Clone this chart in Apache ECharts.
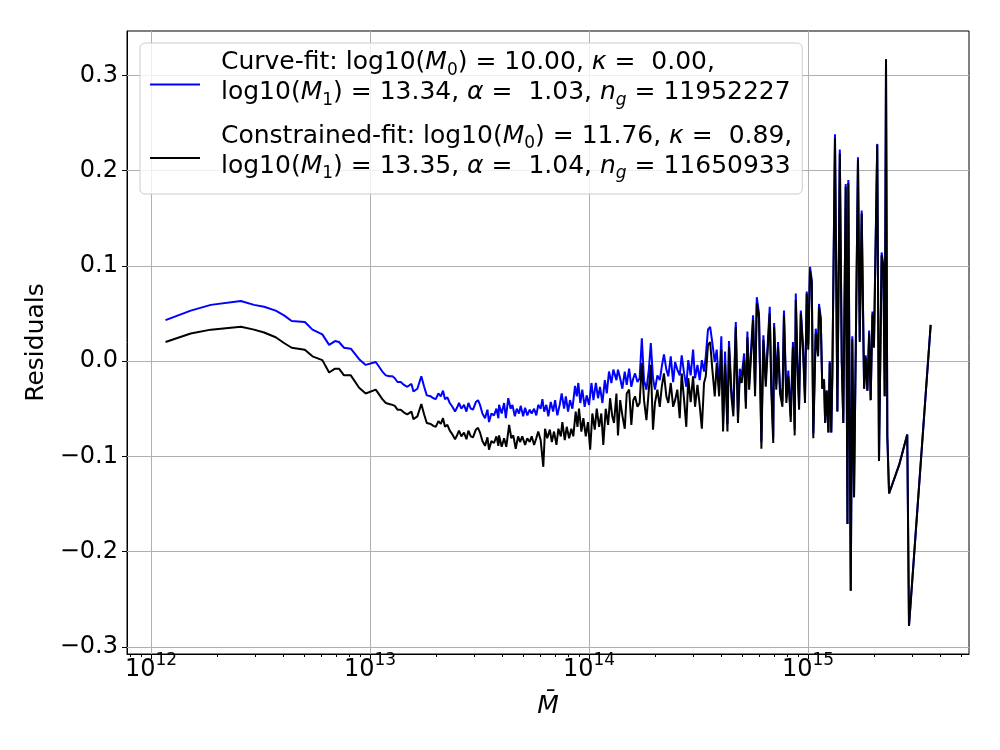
<!DOCTYPE html>
<html>
<head>
<meta charset="utf-8">
<script src="https://cdn.jsdelivr.net/npm/echarts@6/dist/echarts.min.js"></script>
<style>html,body{margin:0;padding:0;background:#fff}#c{width:1000px;height:750px}</style>
</head>
<body>
<div id="c"></div>
<script>
// x values are log10(M-bar), y values are residuals
const curveFit = [
[12.066,0.043],[12.181,0.053],[12.273,0.059],[12.410,0.063],[12.470,0.059],[12.516,0.057],[12.569,0.053],[12.607,0.048],[12.642,0.042],[12.702,0.041],[12.737,0.033],[12.782,0.028],[12.813,0.017],[12.840,0.021],[12.858,0.020],[12.881,0.014],[12.912,0.013],[12.950,0.002],[12.980,-0.004],[13.026,-0.001],
[13.056,-0.011],[13.072,-0.015],[13.087,-0.016],[13.102,-0.016],[13.113,-0.018],[13.125,-0.022],[13.140,-0.022],[13.155,-0.025],[13.170,-0.027],[13.189,-0.024],[13.198,-0.032],[13.216,-0.029],[13.234,-0.016],[13.247,-0.027],[13.259,-0.036],[13.277,-0.037],[13.289,-0.039],[13.300,-0.040],[13.312,-0.034],[13.323,-0.037],[13.333,-0.031],[13.342,-0.040],[13.353,-0.038],[13.364,-0.044],[13.376,-0.048],[13.388,-0.053],[13.399,-0.048],[13.406,-0.044],[13.417,-0.050],[13.429,-0.046],[13.440,-0.053],[13.449,-0.044],[13.460,-0.050],[13.470,-0.051],[13.483,-0.043],[13.493,-0.041],[13.502,-0.046],[13.513,-0.055],[13.525,-0.060],[13.536,-0.051],[13.543,-0.064],[13.554,-0.055],[13.566,-0.057],[13.577,-0.050],[13.586,-0.060],
[13.589,-0.046],[13.601,-0.055],[13.612,-0.044],[13.620,-0.060],[13.631,-0.039],[13.642,-0.050],[13.650,-0.046],[13.661,-0.058],[13.670,-0.050],[13.680,-0.055],[13.688,-0.047],[13.699,-0.058],[13.708,-0.049],[13.718,-0.057],[13.729,-0.051],[13.738,-0.055],[13.749,-0.050],[13.759,-0.057],[13.768,-0.046],[13.779,-0.050],[13.787,-0.040],[13.795,-0.053],[13.805,-0.046],[13.814,-0.058],[13.825,-0.043],[13.836,-0.053],[13.845,-0.041],[13.855,-0.057],[13.866,-0.046],[13.875,-0.034],[13.886,-0.050],[13.894,-0.037],[13.904,-0.053],[13.913,-0.041],[13.924,-0.050],[13.936,-0.026],[13.944,-0.037],[13.951,-0.023],[13.960,-0.044],[13.969,-0.030],[13.980,-0.048],[13.989,-0.036],[14.000,-0.046],[14.011,-0.023],[14.020,-0.041],[14.031,-0.023],[14.041,-0.039],[14.050,-0.027],[14.061,-0.044],[14.072,-0.020],[14.081,-0.034],[14.091,-0.011],[14.102,-0.023],[14.111,-0.009],
[14.114,-0.011],[14.125,-0.020],[14.132,-0.009],[14.142,-0.018],[14.152,-0.029],[14.163,-0.011],[14.172,-0.025],[14.183,-0.008],[14.193,-0.027],[14.202,-0.018],[14.210,-0.013],[14.221,-0.022],[14.231,-0.018],[14.241,0.024],[14.251,-0.020],[14.262,-0.030],[14.273,-0.009],[14.282,0.019],[14.292,-0.018],[14.301,-0.030],[14.312,-0.015],[14.323,-0.020],[14.332,-0.006],[14.342,0.007],[14.353,-0.009],[14.362,-0.016],[14.373,0.005],[14.384,-0.022],[14.393,-0.001],[14.403,-0.009],[14.414,-0.015],[14.423,0.006],[14.434,-0.013],[14.444,-0.027],[14.453,0.001],[14.464,-0.015],[14.475,0.012],[14.484,-0.018],[14.495,-0.004],[14.505,-0.020],[14.515,0.001],[14.525,-0.011],[14.533,0.005],[14.543,0.033],[14.553,0.036],[14.563,0.019],[14.574,-0.001],[14.583,0.012],
[14.594,-0.030],[14.604,0.026],[14.612,-0.066],[14.621,0.010],[14.632,-0.066],[14.639,0.021],[14.650,-0.030],[14.659,-0.050],[14.670,0.041],[14.680,-0.058],[14.688,-0.008],[14.697,-0.016],[14.708,0.008],[14.716,-0.043],[14.723,0.031],[14.731,-0.024],[14.738,0.005],[14.749,0.048],[14.758,-0.030],[14.766,0.067],[14.776,0.050],[14.787,-0.085],[14.796,0.027],[14.807,-0.020],[14.814,0.010],[14.825,0.057],[14.832,-0.022],[14.841,-0.080],[14.845,0.040],[14.855,-0.024],[14.863,0.020],[14.872,-0.028],[14.883,-0.042],[14.890,0.053],[14.901,-0.038],[14.910,-0.010],[14.921,-0.058],[14.931,0.020],[14.939,-0.072],[14.944,0.071],[14.951,0.004],[14.959,-0.045],[14.967,0.053],[14.977,0.017],[14.986,-0.038],[14.994,0.073],[15.001,0.017],[15.009,0.099],[15.017,0.085],[15.024,-0.076],[15.035,0.034],[15.046,0.010],
[15.050,0.060],[15.058,0.046],[15.065,-0.029],[15.073,-0.019],[15.078,-0.065],[15.085,-0.031],[15.093,-0.075],[15.099,0.000],[15.106,-0.075],[15.111,-0.014],[15.123,0.238],[15.134,-0.053],[15.145,0.222],[15.154,0.000],[15.161,-0.065],[15.172,0.186],[15.180,-0.171],[15.184,0.190],[15.195,-0.241],[15.202,0.026],[15.210,-0.143],[15.228,0.214],[15.236,0.022],[15.245,0.158],[15.256,-0.029],[15.263,0.006],[15.271,-0.031],[15.279,0.032],[15.286,-0.041],[15.294,0.052],[15.301,0.016],[15.316,0.228],[15.324,-0.105],[15.336,0.114],[15.344,0.100],[15.350,-0.037],[15.356,0.317],[15.362,-0.079],[15.370,-0.139],[15.416,-0.109],[15.453,-0.077],[15.461,-0.278],[15.560,0.038]
];

const constrainedFit = [
[12.066,0.020],[12.181,0.029],[12.273,0.033],[12.410,0.036],[12.470,0.033],[12.516,0.030],[12.569,0.025],[12.607,0.019],[12.642,0.014],[12.702,0.012],[12.737,0.005],[12.782,0.001],[12.813,-0.012],[12.840,-0.008],[12.858,-0.008],[12.881,-0.015],[12.912,-0.015],[12.950,-0.028],[12.980,-0.034],[13.026,-0.030],
[13.056,-0.040],[13.072,-0.044],[13.087,-0.045],[13.102,-0.046],[13.113,-0.047],[13.125,-0.051],[13.140,-0.051],[13.155,-0.054],[13.170,-0.056],[13.189,-0.053],[13.198,-0.061],[13.216,-0.058],[13.234,-0.045],[13.247,-0.056],[13.259,-0.065],[13.277,-0.066],[13.289,-0.068],[13.300,-0.069],[13.312,-0.063],[13.323,-0.066],[13.333,-0.060],[13.342,-0.069],[13.353,-0.067],[13.364,-0.073],[13.376,-0.077],[13.388,-0.082],[13.399,-0.077],[13.406,-0.073],[13.417,-0.079],[13.429,-0.075],[13.440,-0.082],[13.449,-0.073],[13.460,-0.079],[13.470,-0.080],[13.483,-0.072],[13.493,-0.070],[13.502,-0.075],[13.513,-0.084],[13.525,-0.089],[13.536,-0.080],[13.543,-0.093],[13.554,-0.084],[13.566,-0.086],[13.577,-0.079],[13.586,-0.089],
[13.589,-0.078],[13.601,-0.090],[13.612,-0.081],[13.622,-0.090],[13.635,-0.067],[13.645,-0.081],[13.654,-0.078],[13.665,-0.092],[13.676,-0.079],[13.685,-0.085],[13.695,-0.079],[13.708,-0.088],[13.718,-0.081],[13.729,-0.085],[13.738,-0.079],[13.749,-0.088],[13.759,-0.081],[13.768,-0.074],[13.779,-0.083],[13.791,-0.111],[13.799,-0.071],[13.809,-0.081],[13.821,-0.072],[13.830,-0.085],[13.840,-0.074],[13.851,-0.088],[13.860,-0.071],[13.871,-0.079],[13.878,-0.064],[13.889,-0.083],[13.898,-0.069],[13.909,-0.081],[13.919,-0.071],[13.928,-0.079],[13.939,-0.053],[13.947,-0.069],[13.954,-0.050],[13.965,-0.074],[13.974,-0.060],[13.985,-0.079],[13.995,-0.064],[14.005,-0.093],[14.015,-0.055],[14.026,-0.072],[14.035,-0.050],[14.046,-0.069],[14.056,-0.055],[14.065,-0.088],[14.076,-0.050],[14.087,-0.067],[14.096,-0.039],[14.106,-0.058],
[14.114,-0.065],[14.125,-0.034],[14.132,-0.078],[14.142,-0.041],[14.152,-0.057],[14.163,-0.071],[14.172,-0.034],[14.183,-0.030],[14.193,-0.067],[14.202,-0.041],[14.210,-0.037],[14.221,-0.048],[14.231,-0.044],[14.241,-0.002],[14.251,-0.041],[14.262,-0.062],[14.273,-0.030],[14.282,-0.004],[14.292,-0.072],[14.301,-0.044],[14.312,-0.030],[14.323,-0.048],[14.332,-0.027],[14.342,-0.013],[14.353,-0.037],[14.362,-0.044],[14.373,-0.023],[14.384,-0.048],[14.393,-0.041],[14.403,-0.030],[14.414,-0.060],[14.423,-0.013],[14.434,-0.041],[14.444,-0.069],[14.453,-0.018],[14.464,-0.043],[14.475,-0.016],[14.484,-0.048],[14.495,-0.025],[14.505,-0.046],[14.515,-0.071],[14.525,-0.023],[14.533,-0.016],[14.543,0.017],[14.553,0.020],[14.563,-0.009],[14.574,-0.037],[14.583,-0.002],
[14.594,-0.037],[14.604,0.012],[14.612,-0.074],[14.621,-0.002],[14.632,-0.074],[14.639,0.015],[14.650,-0.037],[14.659,-0.058],[14.670,0.036],[14.680,-0.065],[14.688,-0.016],[14.697,-0.023],[14.708,0.001],[14.716,-0.050],[14.723,0.025],[14.731,-0.030],[14.738,-0.002],[14.749,0.043],[14.758,-0.037],[14.766,0.061],[14.776,0.046],[14.787,-0.092],[14.796,0.022],[14.807,-0.027],[14.814,0.005],[14.825,0.050],[14.832,-0.029],[14.841,-0.086],[14.845,0.036],[14.855,-0.030],[14.863,0.015],[14.872,-0.034],[14.883,-0.048],[14.890,0.048],[14.901,-0.044],[14.910,-0.016],[14.921,-0.064],[14.931,0.015],[14.939,-0.078],[14.944,0.064],[14.951,-0.002],[14.959,-0.051],[14.967,0.050],[14.977,0.012],[14.986,-0.044],[14.994,0.071],[15.001,0.012],[15.009,0.095],[15.017,0.082],[15.024,-0.081],[15.035,0.029],[15.046,0.005],
[15.050,0.057],[15.058,0.043],[15.065,-0.029],[15.073,-0.019],[15.078,-0.065],[15.085,-0.031],[15.093,-0.075],[15.099,-0.002],[15.106,-0.075],[15.111,-0.014],[15.123,0.234],[15.134,-0.053],[15.145,0.218],[15.154,-0.002],[15.161,-0.065],[15.172,0.183],[15.180,-0.171],[15.184,0.187],[15.195,-0.241],[15.202,0.023],[15.210,-0.143],[15.228,0.211],[15.236,0.020],[15.245,0.155],[15.256,-0.029],[15.263,0.004],[15.271,-0.031],[15.279,0.029],[15.286,-0.041],[15.294,0.049],[15.301,0.014],[15.316,0.227],[15.324,-0.105],[15.336,0.111],[15.344,0.098],[15.350,-0.037],[15.356,0.316],[15.362,-0.079],[15.370,-0.139],[15.416,-0.109],[15.453,-0.077],[15.461,-0.278],[15.560,0.038]
];

const xMajorExponents = [12, 13, 14, 15];
const minorMultipliers = [2, 3, 4, 5, 6, 7, 8, 9];
const minorDecades = [11, 12, 13, 14, 15];
const yTicks = [-0.3, -0.2, -0.1, 0.0, 0.1, 0.2, 0.3];

const curveName = 'Curve-fit';
const constrName = 'Constrained-fit';
const curveLabel = '{sp| }{t|Curve-fit: log10(}{i|M}{sub|0}{t|) = 10.00, }{i|κ}{t| =  0.00,}\n{sp| }{t|log10(}{i|M}{sub|1}{t|) = 13.34, }{i|α}{t| =  1.03, }{i|n}{subi|g}{t| = 11952227}\n{g| }';
const constrLabel = '{sp| }{t|Constrained-fit: log10(}{i|M}{sub|0}{t|) = 11.76, }{i|κ}{t| =  0.89,}\n{sp| }{t|log10(}{i|M}{sub|1}{t|) = 13.35, }{i|α}{t| =  1.04, }{i|n}{subi|g}{t| = 11650933}\n{g| }';

const X_MIN = 11.89, X_MAX = 15.735, Y_MIN = -0.3075, Y_MAX = 0.3465;
const FONT = 'DejaVu Sans';

const xMinor = [];
minorDecades.forEach(d => minorMultipliers.forEach(m => {
  const v = d + Math.log10(m);
  if (v > X_MIN && v < X_MAX) xMinor.push(v);
}));

const gridColor = '#b0b0b0';
const chart = echarts.init(document.getElementById('c'), null, {renderer: 'canvas'});
chart.setOption({
  animation: false,
  backgroundColor: '#ffffff',
  grid: {left: 127, right: 31, top: 31, bottom: 96, show: true, borderColor: '#000', borderWidth: 1, backgroundColor: 'transparent'},
  xAxis: [{
    type: 'value', min: X_MIN, max: X_MAX, position: 'bottom',
    axisLine: {show: true, onZero: false, lineStyle: {color: '#000', width: 1}},
    axisTick: {show: true, inside: false, length: 5, customValues: xMajorExponents, lineStyle: {color: '#000', width: 1}},
    axisLabel: {
      show: true, customValues: xMajorExponents, margin: 4,
      formatter: v => '{b|10}{s|' + Math.round(v) + '}',
      rich: {
        b: {fontSize: 24, fontFamily: FONT, color: '#000', lineHeight: 24},
        s: {fontSize: 17, fontFamily: FONT, color: '#000', lineHeight: 17, padding: [0, 0, 19, 0]}
      }
    },
    splitLine: {show: false},
    name: 'M\u0304', nameLocation: 'middle', nameGap: 40,
    nameTextStyle: {fontSize: 25, fontFamily: FONT, fontStyle: 'italic', color: '#000'}
  }, {
    type: 'value', min: X_MIN, max: X_MAX, position: 'bottom',
    axisLine: {show: false, onZero: false},
    axisTick: {show: true, inside: false, length: 3, customValues: xMinor, lineStyle: {color: '#000', width: 1}},
    axisLabel: {show: false},
    splitLine: {show: false}
  }],
  yAxis: {
    type: 'value', min: Y_MIN, max: Y_MAX,
    axisLine: {show: true, onZero: false, lineStyle: {color: '#000', width: 1}},
    axisTick: {show: true, inside: false, length: 5, customValues: yTicks, lineStyle: {color: '#000', width: 1}},
    axisLabel: {
      show: true, customValues: yTicks, margin: 9,
      fontSize: 24, fontFamily: FONT, color: '#000',
      formatter: v => { let s = (Math.abs(v) < 1e-9 ? 0 : v).toFixed(1); return s.replace('-', '\u2212'); }
    },
    splitLine: {show: false},
    name: 'Residuals', nameLocation: 'middle', nameGap: 77, nameRotate: 90,
    nameTextStyle: {fontSize: 25, fontFamily: FONT, color: '#000'}
  },
  legend: {
    orient: 'vertical', left: 140, top: 43,
    padding: [3, 10, 1, 10], itemGap: 0, itemWidth: 50, itemHeight: 2,
    selectedMode: false,
    backgroundColor: 'rgba(255,255,255,0.8)', borderColor: '#cccccc', borderWidth: 1, borderRadius: 5,
    data: [{name: curveName, icon: 'rect'}, {name: constrName, icon: 'rect'}],
    formatter: name => name === curveName ? curveLabel : constrLabel,
    textStyle: {
      color: '#000', fontFamily: FONT, fontSize: 25,
      rich: {
        sp: {width: 16, fontSize: 25, lineHeight: 30},
        t: {fontSize: 25, fontFamily: FONT, color: '#000', lineHeight: 30},
        i: {fontSize: 25, fontFamily: FONT, fontStyle: 'italic', color: '#000', lineHeight: 30},
        sub: {fontSize: 17, fontFamily: FONT, color: '#000', lineHeight: 14, padding: [16, 0, 0, 0]},
        subi: {fontSize: 17, fontFamily: FONT, fontStyle: 'italic', color: '#000', lineHeight: 14, padding: [16, 0, 0, 0]},
        g: {fontSize: 10, lineHeight: 14}
      }
    }
  },
  series: [{
    name: 'grid', type: 'line', xAxisIndex: 0, yAxisIndex: 0,
    data: [[X_MIN, Y_MIN]], showSymbol: false, symbol: 'none', lineStyle: {width: 0}, silent: true, z: 1,
    markLine: {
      silent: true, symbol: 'none', z: 1, animation: false,
      label: {show: false},
      lineStyle: {color: gridColor, width: 1, type: 'solid'},
      emphasis: {disabled: true},
      data: yTicks.map(v => ({yAxis: v})).concat(xMajorExponents.map(v => ({xAxis: v})))
    }
  }, {
    name: curveName, type: 'line', data: curveFit, symbol: 'none', showSymbol: false,
    color: '#0000ff', lineStyle: {color: '#0000ff', width: 2}, z: 3, clip: true
  }, {
    name: constrName, type: 'line', data: constrainedFit, symbol: 'none', showSymbol: false,
    color: '#000000', lineStyle: {color: '#000000', width: 2}, z: 4, clip: true
  }]
});
</script>
</body>
</html>
